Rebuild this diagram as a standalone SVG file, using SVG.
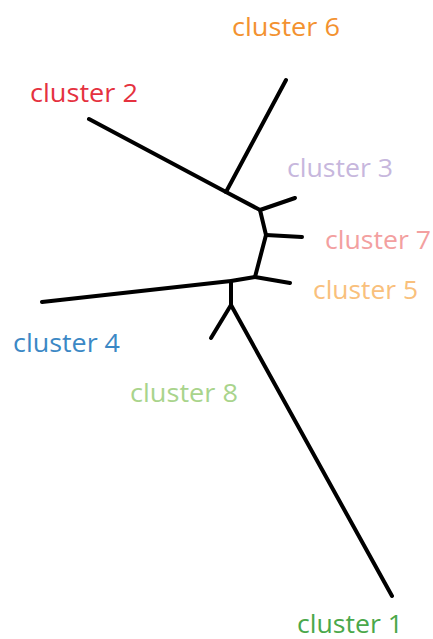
<svg xmlns="http://www.w3.org/2000/svg" width="433" height="639" viewBox="0 0 433 639">
<style>
.e{stroke:#000;stroke-width:4;fill:none;stroke-linecap:round;stroke-linejoin:round}
.t{font-family:"Open Sans","Liberation Sans",sans-serif;font-size:25px}
</style>
<rect width="433" height="639" fill="#fff"/>
<g id="connectors">
<polyline class="e" points="89,119 226,192 260,210 266,235 255,277 231,281 42,302"/>
<line class="e" x1="286" y1="80" x2="226" y2="192"/>
<line class="e" x1="260" y1="210" x2="295" y2="198"/>
<line class="e" x1="266" y1="235" x2="302" y2="237"/>
<line class="e" x1="255" y1="277" x2="290" y2="283"/>
<polyline class="e" points="231,281 231,305 392,596"/>
<line class="e" x1="231" y1="305" x2="211" y2="338"/>
</g>
<g id="cluster6"><text class="t" x="232" y="36" fill="#f39230" textLength="108" lengthAdjust="spacingAndGlyphs">cluster 6</text></g>
<g id="cluster2"><text class="t" x="30" y="102" fill="#e5323f" textLength="108" lengthAdjust="spacingAndGlyphs">cluster 2</text></g>
<g id="cluster3"><text class="t" x="287" y="177" fill="#c7b7dd" textLength="106" lengthAdjust="spacingAndGlyphs">cluster 3</text></g>
<g id="cluster7"><text class="t" x="325" y="249" fill="#f3a0a0" textLength="106" lengthAdjust="spacingAndGlyphs">cluster 7</text></g>
<g id="cluster5"><text class="t" x="313" y="299" fill="#f9c07c" textLength="105" lengthAdjust="spacingAndGlyphs">cluster 5</text></g>
<g id="cluster4"><text class="t" x="13" y="352" fill="#3b88c5" textLength="107" lengthAdjust="spacingAndGlyphs">cluster 4</text></g>
<g id="cluster8"><text class="t" x="130" y="402" fill="#a9d48c" textLength="108" lengthAdjust="spacingAndGlyphs">cluster 8</text></g>
<g id="cluster1"><text class="t" x="297" y="633" fill="#4aa84a" textLength="106" lengthAdjust="spacingAndGlyphs">cluster 1</text></g>
</svg>
